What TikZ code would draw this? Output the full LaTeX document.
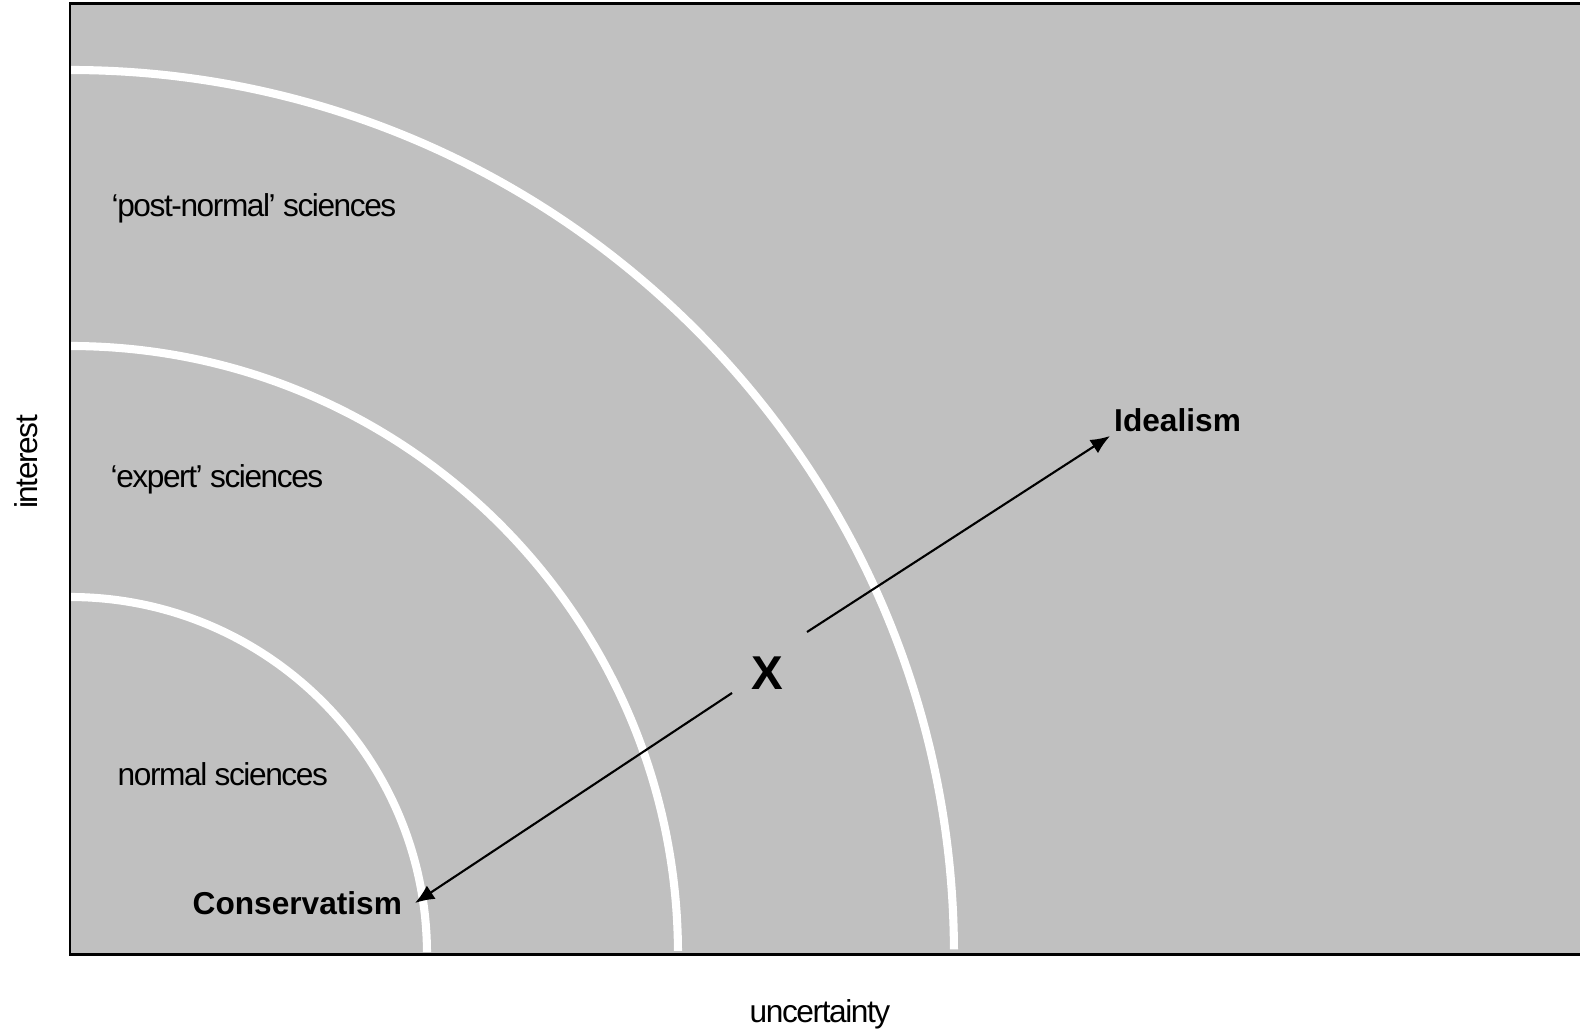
\documentclass[tikz,border=0pt]{standalone}
\usepackage{fontspec}
\setmainfont{Liberation Sans}
\newfontfamily\tightsans[LetterSpace=-4.5]{Liberation Sans}
\usetikzlibrary{positioning,arrows.meta}

\begin{document}
\begin{tikzpicture}[
  x=0.01cm, y=-0.01cm,
  zone/.style={draw=white,line width=2.3pt},
  region/.style={anchor=west,inner sep=0pt,font=\tightsans\fontsize{9}{11}\selectfont},
  axislbl/.style={inner sep=0pt,font=\tightsans\fontsize{9}{11}\selectfont},
  pole/.style={font=\bfseries\fontsize{9}{11}\selectfont},
  arr/.style={line width=0.6pt,-{Latex[length=5.5pt,width=4.5pt]}}
]
\useasboundingbox (0,0) rectangle (1580,1031);
\fill[fill={rgb,255:red,192;green,192;blue,192}] (70,4) rectangle (1600,954);
% the three zones
\foreach \r in {357,608,884}
  \draw[zone] (70,954-\r) arc[start angle=-90,end angle=-0.3,radius=\r];
\draw[line width=0.85pt] (1600,4) -- (70,4) -- (70,954) -- (1600,954);

\node[region] (post) at (111,208) {‘post-normal’ sciences};
\node[region] (expert) at (110,479) {‘expert’ sciences};
\node[region] (normal) at (117,774) {normal sciences};

\node[font=\bfseries\fontsize{13.5}{16}\selectfont] (X) at (767,673) {X};
\coordinate (xUp) at (807,632);
\coordinate (xDown) at (732,693);
\node[pole,anchor=south west,inner sep=1pt] (Idealism) at (1110,436) {Idealism};
\node[pole,anchor=east,inner sep=3.5pt] (Conservatism) at (415,903) {Conservatism};
\path (xUp) edge[arr] (Idealism.south west);
\path (xDown) edge[arr] (Conservatism.east);

\node[axislbl,rotate=90] (interest) at (26,462) {interest};
\node[axislbl] (uncertainty) at (820,1014) {uncertainty};
\end{tikzpicture}
\end{document}
